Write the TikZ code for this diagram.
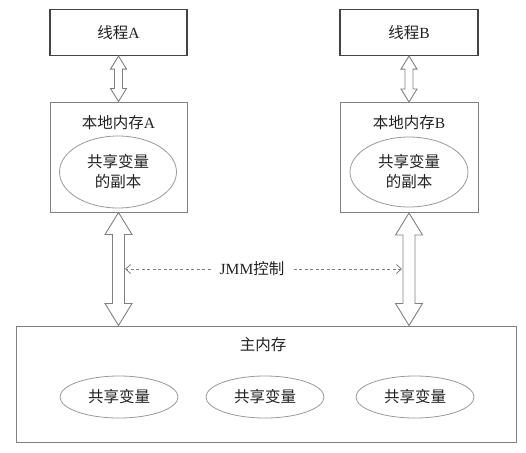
\documentclass[tikz,border=0pt]{standalone}
\usepackage{fontspec}
\setmainfont{Liberation Serif}
\newfontfamily\cjk{Noto Sans CJK SC}
\usetikzlibrary{calc,arrows.meta,shapes.geometric}
\definecolor{txt}{HTML}{222222}
\definecolor{dk}{HTML}{444444}
\definecolor{md}{HTML}{808080}
\definecolor{lt}{HTML}{9A9A9A}
\newcommand\fatarrow[5]{%
  \draw[fatstyle] let \p1=(#1), \p2=(#2) in
    (\x1,\y1) -- (\x1+#4,\y1-#5) -- (\x1+#3,\y1-#5) -- (\x1+#3,\y2+#5) --
    (\x1+#4,\y2+#5) -- (\x1,\y2) -- (\x1-#4,\y2+#5) -- (\x1-#3,\y2+#5) --
    (\x1-#3,\y1-#5) -- (\x1-#4,\y1-#5) -- cycle;}
\begin{document}
\begin{tikzpicture}[x=1pt,y=-1pt,
  every node/.style={text=txt,font=\fontsize{15.5}{19}\selectfont},
  tbox/.style={draw=dk,line width=1.1pt,minimum width=137pt,minimum height=46pt,inner sep=0pt},
  lbox/.style={draw=md,line width=1pt,minimum width=137pt,minimum height=110pt,inner sep=0pt},
  mbox/.style={draw=md,line width=1pt,minimum width=500pt,minimum height=116pt,inner sep=0pt},
  var/.style={draw=lt,line width=0.8pt,ellipse,inner sep=0pt,align=center},
  fatstyle/.style={draw=md,line width=0.9pt,fill=white,line join=miter},
  jdash/.style={draw=md,line width=0.8pt,dash pattern=on 3pt off 2.5pt,-{Straight Barb[length=5pt,width=9pt]}}]
\useasboundingbox (0,0) rectangle (526,452);
\fill[white] (0,0) rectangle (526,452);
% threads
\node[tbox] (tA) at (118.5,32.5) {{\cjk 线程}A};
\node[tbox,minimum width=138pt] (tB) at (409,32.5) {{\cjk 线程}B};
% local memories
\node[lbox] (lA) at (118.5,157) {};
\node[lbox,minimum width=138pt] (lB) at (409,157.5) {};
\node (lAt) at (118.5,123) {{\cjk 本地内存}A};
\node (lBt) at (409,123) {{\cjk 本地内存}B};
\node[var,minimum width=117pt,minimum height=72pt] (eA) at (118,172) {\cjk 共享变量\\[1pt]\cjk 的副本};
\node[var,minimum width=118pt,minimum height=70pt] (eB) at (409,172) {\cjk 共享变量\\[1pt]\cjk 的副本};
% main memory
\node[mbox] (mm) at (266,384) {};
\node (mmt) at (263,345) {\cjk 主内存};
\node[var,minimum width=118pt,minimum height=42pt] (v1) at (119,397) {\cjk 共享变量};
\node[var,minimum width=118pt,minimum height=42pt] (v2) at (265,397) {\cjk 共享变量};
\node[var,minimum width=118pt,minimum height=42pt] (v3) at (415,397) {\cjk 共享变量};
% arrows
\fatarrow{tA.south}{lA.north}{4pt}{8pt}{13pt}
\fatarrow{tB.south}{lB.north}{4pt}{8pt}{13pt}
\coordinate (mA) at (lA.south |- mm.north);
\coordinate (mB) at (lB.south |- mm.north);
\fatarrow{lA.south}{mA}{6pt}{13.5pt}{22pt}
\fatarrow{lB.south}{mB}{6pt}{13.5pt}{22pt}
% JMM control
\node[inner xsep=9pt] (jmm) at (252,269) {JMM{\cjk 控制}};
\coordinate (jl) at (125,269);
\coordinate (jr) at (402,269);
\draw[jdash] (jmm.west) -- (jl);
\draw[jdash] (jmm.east) -- (jr);
\end{tikzpicture}
\end{document}
